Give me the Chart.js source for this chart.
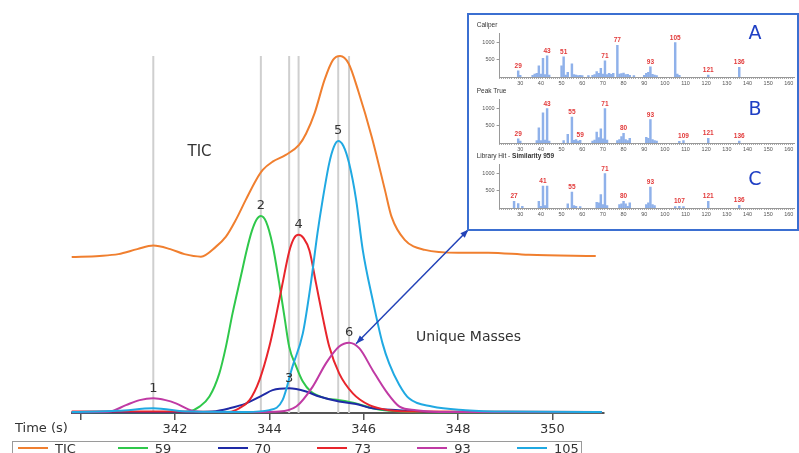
<!DOCTYPE html>
<html lang="en">
<head>
<meta charset="UTF-8">
<title>Deconvoluted peaks and spectra</title>
<script src="https://cdn.jsdelivr.net/npm/chart.js"></script>
<style>
  body { margin: 0; background: #fff; }
  #wrap { position: relative; width: 799px; height: 453px; overflow: hidden; font-family: "DejaVu Sans", Verdana, sans-serif; }
  canvas { position: absolute; }
  #inset { position: absolute; left: 467px; top: 12.5px; width: 332px; height: 218px; box-sizing: border-box; border: 2px solid #3b6fd1; background: #fff; }
  .letter { position: absolute; transform: translate(-50%, -50%); font-size: 19px; line-height: 1; color: #1f3fc4; }
  #legend { position: absolute; left: 11.5px; top: 440.5px; width: 570px; height: 24px; box-sizing: border-box; border: 1px solid #9a9a9a; }
  .item { position: absolute; top: 0; line-height: 13px; font-size: 13px; color: #333; white-space: nowrap; }
  .swatch { display: inline-block; width: 30px; height: 2px; vertical-align: middle; margin: 0 7px 2px 0; }
</style>
</head>
<body>
<div id="wrap">
  <canvas id="main" width="799" height="453"></canvas>
  <div id="inset"></div>
  <canvas id="specA" width="327" height="74"></canvas>
  <canvas id="specB" width="327" height="74"></canvas>
  <canvas id="specC" width="327" height="74"></canvas>
  <div id="legend"></div>
</div>

<script>
  // ---- chromatogram traces (time in s, intensity in % of TIC max) ----
  const seriesNames = ["TIC", "59", "70", "73", "93", "105"];
  const seriesColors = ["#f07f2f", "#2fc84b", "#1f2aa6", "#e8252c", "#c03aa4", "#20a9e2"];

  const ticTime = [339.81, 340.4, 340.8, 341.2, 341.54, 341.9, 342.2, 342.55, 342.87, 343.08, 343.29, 343.5, 343.72, 343.86, 344.07, 344.35, 344.63, 344.78, 344.96, 345.17, 345.35, 345.5, 345.68, 345.89, 346.17, 346.45, 346.59, 346.87, 347.3, 348.0, 348.64, 349.5, 350.92];
  const ticValue = [43.7, 44.0, 44.5, 45.9, 46.9, 45.9, 44.5, 43.8, 46.6, 49.4, 54.1, 59.7, 65.3, 68.1, 70.4, 72.3, 75.1, 78.3, 84.0, 93.3, 98.9, 100, 97.9, 90.0, 77.4, 62.5, 55.0, 48.5, 45.7, 44.9, 44.9, 44.3, 44.0];

  const m59Time = [339.81, 341.5, 342.1, 342.3, 342.52, 342.73, 342.94, 343.08, 343.22, 343.4, 343.52, 343.63, 343.73, 343.82, 343.93, 344.07, 344.21, 344.32, 344.42, 344.57, 344.71, 344.88, 345.2, 345.48, 345.84, 346.19, 346.54, 347.2, 351.05];
  const m59Value = [0.2, 0.2, 0.2, 0.4, 1.8, 4.6, 11.1, 18.6, 27.9, 38.5, 45.6, 51.0, 54.2, 55.2, 53.6, 47.0, 36.3, 27.0, 18.6, 13.0, 8.8, 6.0, 4.1, 3.6, 2.7, 1.3, 0.6, 0.2, 0.2];

  const m70Time = [339.81, 342.3, 342.8, 343.15, 343.51, 343.86, 344.07, 344.42, 344.78, 345.06, 345.48, 345.84, 346.19, 346.74, 347.5, 351.05];
  const m70Value = [0.2, 0.2, 0.4, 1.3, 2.7, 5.0, 6.4, 6.9, 6.0, 4.6, 3.2, 2.5, 1.3, 0.8, 0.3, 0.3];

  const m73Time = [339.81, 342.0, 343.15, 343.36, 343.58, 343.79, 344.0, 344.14, 344.28, 344.42, 344.52, 344.62, 344.73, 344.85, 344.99, 345.13, 345.27, 345.48, 345.77, 346.12, 346.54, 347.1, 351.05];
  const m73Value = [0.4, 0.4, 0.3, 1.3, 3.6, 9.2, 18.6, 27.0, 36.3, 45.2, 48.9, 49.9, 48.9, 45.5, 36.3, 27.0, 18.6, 11.1, 5.5, 2.2, 0.8, 0.4, 0.3];

  const m93Time = [339.81, 340.3, 340.61, 340.96, 341.25, 341.54, 341.8, 342.02, 342.37, 342.7, 343.8, 344.21, 344.57, 344.92, 345.2, 345.48, 345.69, 345.91, 346.19, 346.48, 346.76, 347.11, 347.6, 351.05];
  const m93Value = [0.2, 0.3, 0.4, 2.2, 3.6, 4.1, 3.6, 2.7, 0.6, 0.3, 0.3, 0.4, 1.8, 7.4, 13.9, 18.6, 19.7, 18.1, 12.0, 6.0, 1.8, 0.8, 0.3, 0.2];

  const m105Time = [339.81, 340.8, 341.54, 342.3, 343.5, 344.0, 344.28, 344.49, 344.71, 344.88, 345.02, 345.13, 345.27, 345.37, 345.46, 345.57, 345.69, 345.84, 345.98, 346.19, 346.4, 346.54, 346.75, 346.96, 347.45, 348.16, 349.0, 351.05];
  const m105Value = [0.3, 0.6, 1.3, 0.4, 0.3, 0.8, 3.6, 13.0, 22.3, 36.3, 50.3, 59.7, 70.0, 74.6, 76.2, 74.8, 70.0, 59.7, 45.7, 31.7, 19.5, 13.9, 8.0, 4.1, 1.8, 0.8, 0.4, 0.3];

  const timeTicks = [340, 342, 344, 346, 348, 350];
  const timeTickLabels = ["", "342", "344", "346", "348", "350"];

  // numbered peaks: apex time and apex height
  const peakNumbers = ["1", "2", "3", "4", "5", "6"];
  const peakTimes = [341.54, 343.82, 344.42, 344.62, 345.46, 345.69];
  const peakHeights = [4.1, 55.2, 6.9, 49.9, 76.2, 19.7];

  // ---- mass spectra (m/z, intensity) ----
  const massA = [29, 30, 36, 37, 38, 39, 40, 41, 42, 43, 44, 50, 51, 52, 53, 55, 56, 57, 58, 59, 60, 63, 65, 66, 67, 68, 69, 70, 71, 72, 73, 74, 75, 77, 78, 79, 80, 81, 82, 83, 85, 90, 91, 92, 93, 94, 95, 96, 105, 106, 107, 121, 136];
  const intensA = [182, 48, 48, 86, 106, 326, 86, 538, 67, 614, 58, 326, 586, 58, 134, 384, 67, 58, 38, 48, 38, 38, 48, 67, 154, 106, 250, 86, 470, 67, 106, 77, 106, 922, 86, 96, 115, 67, 77, 48, 38, 48, 106, 134, 298, 77, 58, 38, 1000, 86, 48, 58, 278];
  const marksA = [29, 43, 51, 71, 77, 93, 105, 121, 136];

  const massB = [29, 30, 38, 39, 40, 41, 42, 43, 44, 51, 53, 55, 56, 57, 58, 59, 65, 66, 67, 68, 69, 70, 71, 72, 77, 78, 79, 80, 81, 82, 83, 91, 92, 93, 94, 95, 96, 107, 109, 121, 136];
  const intensB = [118, 59, 69, 441, 69, 872, 88, 1000, 59, 69, 255, 755, 78, 98, 59, 78, 59, 88, 314, 157, 412, 118, 1000, 88, 69, 98, 186, 284, 98, 69, 137, 167, 137, 676, 98, 69, 59, 49, 69, 137, 59];
  const marksB = [29, 43, 55, 59, 71, 80, 93, 109, 121, 136];

  const massC = [27, 29, 31, 39, 40, 41, 42, 43, 53, 55, 56, 57, 59, 67, 68, 69, 70, 71, 72, 78, 79, 80, 81, 82, 83, 91, 92, 93, 94, 95, 105, 107, 109, 121, 136];
  const intensC = [196, 127, 49, 196, 49, 637, 69, 637, 118, 461, 69, 49, 39, 167, 147, 392, 98, 1000, 69, 98, 118, 196, 118, 49, 147, 98, 147, 608, 98, 69, 39, 49, 39, 196, 78];
  const marksC = [27, 41, 55, 71, 80, 93, 107, 121, 136];

  const spectrumIds = ["specA", "specB", "specC"];
  const spectrumTitles = [["Caliper", ""], ["Peak True", ""], ["Library Hit - ", "Similarity 959"]];
  const spectrumLetters = ["A", "B", "C"];
  const spectrumBaselines = [76.6, 142.6, 208.4];
  const letterCentres = [32.4, 108, 178.3];
  const intensityTicks = [500, 1000];

  const massTicks = [];
  for (let m = 20; m <= 162; m++) massTicks.push(m);

  // ---- main chromatogram ----
  const traceTimes = [ticTime, m59Time, m70Time, m73Time, m93Time, m105Time];
  const traceValues = [ticValue, m59Value, m70Value, m73Value, m93Value, m105Value];

  const annotations = {
    id: "annotations",
    beforeDatasetsDraw(chart) {
      const { ctx, scales: { x, y } } = chart;
      ctx.save();
      ctx.strokeStyle = "#cfcfcf";
      ctx.lineWidth = 2;
      peakTimes.forEach(t => {
        const px = x.getPixelForValue(t);
        ctx.beginPath();
        ctx.moveTo(px, y.getPixelForValue(100));
        ctx.lineTo(px, y.getPixelForValue(0));
        ctx.stroke();
      });
      ctx.restore();
    },
    afterDatasetsDraw(chart) {
      const { ctx, scales: { x, y } } = chart;
      ctx.save();
      ctx.fillStyle = "#333";
      ctx.textAlign = "center";
      ctx.textBaseline = "middle";
      ctx.font = "13px 'DejaVu Sans'";
      peakNumbers.forEach((n, i) => {
        ctx.fillText(n, x.getPixelForValue(peakTimes[i]), y.getPixelForValue(peakHeights[i]) - 10);
      });
      ctx.font = "15px 'DejaVu Sans'";
      ctx.fillText("TIC", x.getPixelForValue(342.52), y.getPixelForValue(73.1));
      ctx.textAlign = "left";
      ctx.font = "14px 'DejaVu Sans'";
      ctx.fillText("Unique Masses", x.getPixelForValue(347.11), y.getPixelForValue(21.1));
      ctx.font = "13px 'DejaVu Sans'";
      ctx.fillText("Time (s)", 15, 429);

      // double-headed arrow from peak 6 to the spectrum panel
      const x1 = x.getPixelForValue(peakTimes[5]) + 7, y1 = y.getPixelForValue(peakHeights[5]) + 1;
      const x2 = 468.5, y2 = 229.5;
      ctx.strokeStyle = ctx.fillStyle = "#2343b8";
      ctx.lineWidth = 1.5;
      ctx.beginPath();
      ctx.moveTo(x1, y1);
      ctx.lineTo(x2, y2);
      ctx.stroke();
      const head = (hx, hy, ang) => {
        ctx.beginPath();
        ctx.moveTo(hx, hy);
        ctx.lineTo(hx - 9 * Math.cos(ang - 0.35), hy - 9 * Math.sin(ang - 0.35));
        ctx.lineTo(hx - 9 * Math.cos(ang + 0.35), hy - 9 * Math.sin(ang + 0.35));
        ctx.closePath();
        ctx.fill();
      };
      head(x2, y2, Math.atan2(y2 - y1, x2 - x1));
      head(x1, y1, Math.atan2(y1 - y2, x1 - x2));
      ctx.restore();
    }
  };

  new Chart(document.getElementById("main"), {
    type: "line",
    data: {
      datasets: seriesNames.map((name, i) => ({
        label: name,
        data: traceTimes[i].map((t, k) => ({ x: t, y: traceValues[i][k] })),
        borderColor: seriesColors[i],
        borderWidth: 2,
        pointRadius: 0,
        fill: false,
        clip: false,
        cubicInterpolationMode: "monotone",
        order: seriesNames.length - i
      }))
    },
    options: {
      responsive: false,
      animation: false,
      events: [],
      layout: { padding: { left: 71.7, right: 195.7, top: 56, bottom: 0 } },
      plugins: { legend: { display: false }, tooltip: { enabled: false } },
      scales: {
        x: {
          type: "linear",
          min: 339.81,
          max: 351.08,
          afterBuildTicks: s => { s.ticks = timeTicks.map(v => ({ value: v })); },
          afterFit: s => { s.height = 40; },
          grid: { drawOnChartArea: false, tickLength: 7, color: "#555", lineWidth: 1.5 },
          border: { color: "#555", width: 2 },
          ticks: {
            autoSkip: false,
            maxRotation: 0,
            padding: 2,
            color: "#333",
            font: { family: "DejaVu Sans", size: 13 },
            callback: (v, i) => timeTickLabels[i]
          }
        },
        y: { display: false, min: 0, max: 100 }
      }
    },
    plugins: [annotations]
  });

  // ---- legend ----
  const legend = document.getElementById("legend");
  seriesNames.forEach((name, i) => {
    const item = document.createElement("div");
    item.className = "item";
    item.style.left = (5.5 + i * 99.8) + "px";
    item.style.top = "0px";
    item.innerHTML = '<span class="swatch" style="background:' + seriesColors[i] + '"></span>' + name;
    legend.appendChild(item);
  });

  // ---- spectrum panels ----
  const spectrumLabels = {
    id: "spectrumLabels",
    afterDatasetsDraw(chart, args, opts) {
      const { ctx } = chart;
      const meta = chart.getDatasetMeta(0);
      const mass = opts.mass;
      ctx.save();
      ctx.fillStyle = "#e23a3a";
      ctx.textAlign = "center";
      ctx.textBaseline = "bottom";
      ctx.font = "bold 6.5px 'Liberation Sans'";
      opts.marks.forEach(m => {
        const bar = meta.data[mass.indexOf(m)];
        ctx.fillText(String(m), bar.x, bar.y - 1.5);
      });
      ctx.textAlign = "left";
      ctx.textBaseline = "middle";
      ctx.fillStyle = "#333";
      ctx.font = "6.5px 'Liberation Sans'";
      ctx.fillText(opts.title[0], 6.7, 10.5);
      if (opts.title[1]) {
        const w = ctx.measureText(opts.title[0]).width;
        ctx.font = "bold 6.5px 'Liberation Sans'";
        ctx.fillText(opts.title[1], 6.7 + w, 10.5);
      }
      ctx.restore();
    }
  };

  const spectraMass = [massA, massB, massC];
  const spectraIntens = [intensA, intensB, intensC];
  const spectraMarks = [marksA, marksB, marksC];
  const axisFont = { family: "Liberation Sans", size: 5.5 };

  spectrumIds.forEach((id, p) => {
    const canvas = document.getElementById(id);
    canvas.style.left = "470px";
    canvas.style.top = (spectrumBaselines[p] - 62) + "px";

    const letter = document.createElement("div");
    letter.className = "letter";
    letter.textContent = spectrumLetters[p];
    letter.style.left = "755px";
    letter.style.top = letterCentres[p] + "px";
    document.getElementById("wrap").appendChild(letter);

    new Chart(canvas, {
      type: "bar",
      data: {
        datasets: [{
          data: spectraMass[p].map((m, i) => ({ x: m, y: spectraIntens[p][i] })),
          backgroundColor: "#8fb1ea",
          barThickness: 1.8
        }]
      },
      options: {
        responsive: false,
        animation: false,
        events: [],
        layout: { padding: { top: 18.9, right: 3, left: 0, bottom: 0 } },
        plugins: {
          legend: { display: false },
          tooltip: { enabled: false },
          spectrumLabels: { mass: spectraMass[p], marks: spectraMarks[p], title: spectrumTitles[p] }
        },
        scales: {
          x: {
            type: "linear",
            min: 20,
            max: 162.5,
            offset: false,
            afterBuildTicks: s => { s.ticks = massTicks.map(v => ({ value: v })); },
            afterFit: s => { s.height = 12; },
            grid: { offset: false, drawOnChartArea: false, tickLength: 2, color: "#aaa" },
            border: { color: "#999" },
            ticks: {
              autoSkip: false,
              maxRotation: 0,
              padding: 1,
              color: "#555",
              font: axisFont,
              callback: v => (v % 10 === 0 && v >= 30) ? String(v) : ""
            }
          },
          y: {
            min: 0,
            max: 1250,
            afterBuildTicks: s => { s.ticks = intensityTicks.map(v => ({ value: v })); },
            afterFit: s => { s.width = 29.6; },
            grid: { drawOnChartArea: false, tickLength: 3, color: "#999" },
            border: { color: "#999" },
            ticks: { padding: 2, color: "#555", font: axisFont, callback: v => String(v) }
          }
        }
      },
      plugins: [spectrumLabels]
    });
  });
</script>
</body>
</html>
